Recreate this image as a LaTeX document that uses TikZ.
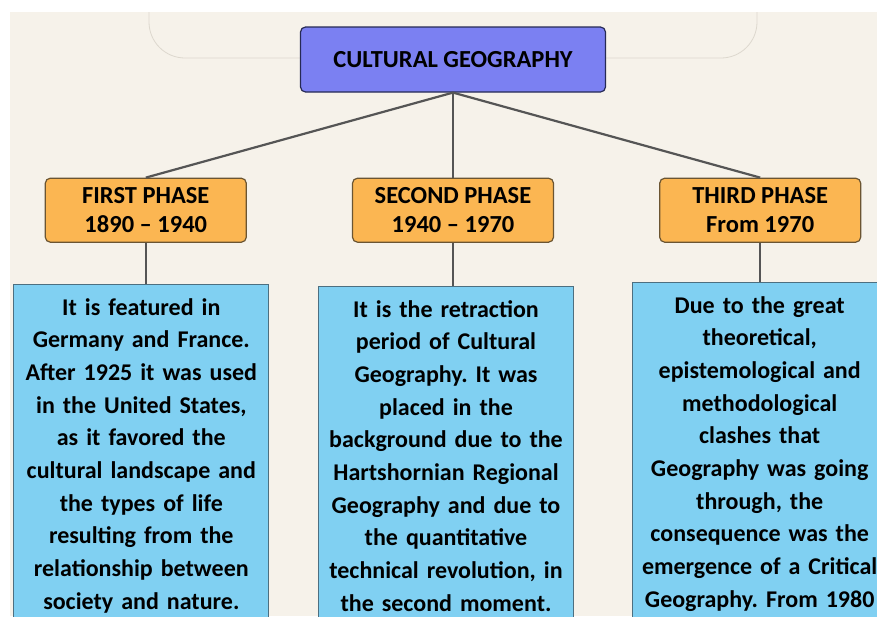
\documentclass[tikz,border=0pt]{standalone}
\usepackage{fontspec}
\setmainfont{Carlito}
\frenchspacing
\usetikzlibrary{positioning}
\definecolor{paper}{HTML}{F6F2EA}
\definecolor{framegray}{HTML}{DDD8CE}
\definecolor{titlefill}{HTML}{7B80F2}
\definecolor{titleline}{HTML}{262A55}
\definecolor{phasefill}{HTML}{FBB652}
\definecolor{phaseline}{HTML}{6B5532}
\definecolor{descfill}{HTML}{80D0F2}
\definecolor{descline}{HTML}{4D6F80}
\definecolor{linkgray}{HTML}{555555}
\tikzstyle{title} = [align=center,draw=titleline,fill=titlefill,rectangle,rounded corners=5pt,line width=1.2pt,minimum width=305pt,minimum height=65pt,font=\bfseries\fontsize{24.5}{29}\selectfont]
\tikzstyle{phase} = [align=center,draw=phaseline,fill=phasefill,rectangle,rounded corners=5pt,line width=1.2pt,minimum width=201pt,minimum height=64pt,font=\bfseries\fontsize{24.5}{29}\selectfont]
\tikzstyle{desc} = [align=center,draw=descline,fill=descfill,rectangle,line width=0.8pt,text width=247pt,inner xsep=4pt,inner ysep=14pt,font=\bfseries\fontsize{24}{32.7}\selectfont]
\tikzstyle{link} = [draw=linkgray,line width=2.2pt]
\begin{document}
\begin{tikzpicture}[x=1pt,y=-1pt]
  \useasboundingbox (0,0) rectangle (877,616);
  \clip (0,0) rectangle (877,616);
  \fill[paper] (10,12) rectangle (877,616);
  \begin{scope}
    \clip (10,12) rectangle (877,616);
    \draw[framegray,line width=0.8pt,rounded corners=36pt] (149,-40) rectangle (757,58);
  \end{scope}
  \node (geo) [title] at (453,59.5) {CULTURAL GEOGRAPHY};
  \node (second) [phase,below=85pt of geo] {SECOND PHASE\\1940 -- 1970};
  \node (first) [phase,left=105pt of second] {FIRST PHASE\\1890 -- 1940};
  \node (third) [phase,right=105pt of second] {THIRD PHASE\\From 1970};
  \node (d1) [desc,below=41pt of first,xshift=-4.5pt] {It is featured in\\Germany and France.\\After 1925 it was used\\in the United States,\\as it favored the\\cultural landscape and\\the types of life\\resulting from the\\relationship between\\society and nature.};
  \node (d2) [desc,below=43pt of second,xshift=-7pt] {It is the retraction\\period of Cultural\\Geography. It was\\placed in the\\background due to the\\Hartshornian Regional\\Geography and due to\\the quantitative\\technical revolution, in\\the second moment.};
  \node (d3) [desc,below=39pt of third,xshift=-0.5pt] {Due to the great\\theoretical,\\epistemological and\\methodological\\clashes that\\Geography was going\\through, the\\consequence was the\\emergence of a Critical\\Geography. From 1980};
  \draw [link] (geo.south) -- (first.north);
  \draw [link] (geo.south) -- (second.north);
  \draw [link] (geo.south) -- (third.north);
  \draw [link] (first.south) -- (first.south |- d1.north);
  \draw [link] (second.south) -- (second.south |- d2.north);
  \draw [link] (third.south) -- (third.south |- d3.north);
\end{tikzpicture}
\end{document}
